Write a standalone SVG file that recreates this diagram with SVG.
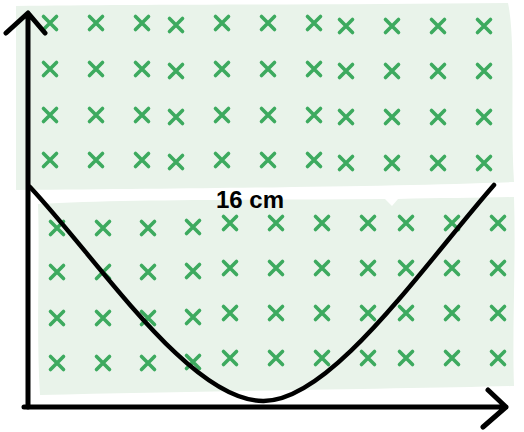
<svg xmlns="http://www.w3.org/2000/svg" xmlns:xlink="http://www.w3.org/1999/xlink" width="524" height="432" viewBox="0 0 524 432">
<style>
.region{fill:#e9f3ea;stroke:none}
.cross{fill:none;stroke:#3daa5f;stroke-width:3.6;stroke-linecap:round}
.ink{fill:none;stroke:#000;stroke-linecap:round;stroke-linejoin:round}
.label{font-family:"Liberation Sans","Open Sans",Arial,sans-serif;font-weight:bold;font-size:24px;fill:#000}
</style>
<defs>
<path id="x" class="cross" d="M-6.5,-6.5 L6.5,6.5 M6.5,-6.5 L-6.5,6.5"/>
</defs>
<rect width="524" height="432" fill="#fff"/>
<g id="top-region">
<path class="region" d="M16,6 C150,4 350,5 508,3 C516,40 510,120 514,182 C400,186 250,188 16,190 Z"/>
<g id="top-crosses">
<use xlink:href="#x" x="50" y="23"/><use xlink:href="#x" x="96" y="23"/><use xlink:href="#x" x="142" y="23"/><use xlink:href="#x" x="176" y="25"/><use xlink:href="#x" x="222" y="23"/><use xlink:href="#x" x="268" y="23"/><use xlink:href="#x" x="314" y="23"/><use xlink:href="#x" x="346" y="26"/><use xlink:href="#x" x="392" y="26"/><use xlink:href="#x" x="438" y="26"/><use xlink:href="#x" x="484" y="26"/>
<use xlink:href="#x" x="50" y="69"/><use xlink:href="#x" x="96" y="69"/><use xlink:href="#x" x="142" y="69"/><use xlink:href="#x" x="176" y="71"/><use xlink:href="#x" x="222" y="69"/><use xlink:href="#x" x="268" y="69"/><use xlink:href="#x" x="314" y="69"/><use xlink:href="#x" x="346" y="71"/><use xlink:href="#x" x="392" y="71"/><use xlink:href="#x" x="438" y="71"/><use xlink:href="#x" x="484" y="71"/>
<use xlink:href="#x" x="50" y="115"/><use xlink:href="#x" x="96" y="115"/><use xlink:href="#x" x="142" y="115"/><use xlink:href="#x" x="176" y="117"/><use xlink:href="#x" x="222" y="115"/><use xlink:href="#x" x="268" y="115"/><use xlink:href="#x" x="314" y="115"/><use xlink:href="#x" x="346" y="117"/><use xlink:href="#x" x="392" y="117"/><use xlink:href="#x" x="438" y="117"/><use xlink:href="#x" x="484" y="117"/>
<use xlink:href="#x" x="50" y="160"/><use xlink:href="#x" x="96" y="160"/><use xlink:href="#x" x="142" y="160"/><use xlink:href="#x" x="176" y="162"/><use xlink:href="#x" x="222" y="160"/><use xlink:href="#x" x="268" y="160"/><use xlink:href="#x" x="314" y="160"/><use xlink:href="#x" x="346" y="163"/><use xlink:href="#x" x="392" y="163"/><use xlink:href="#x" x="438" y="163"/><use xlink:href="#x" x="484" y="163"/>
</g>
</g>
<g id="bottom-region">
<path class="region" d="M38,204 C120,199 260,200 385,199 L392,206 L398,199 C440,198 480,198 514,197 C516,260 512,330 514,386 C400,389 200,391 40,395 C36,330 40,260 38,204 Z"/>
<g id="bottom-crosses">
<use xlink:href="#x" x="57" y="228"/><use xlink:href="#x" x="103" y="228"/><use xlink:href="#x" x="148" y="228"/><use xlink:href="#x" x="193" y="227"/><use xlink:href="#x" x="230" y="223"/><use xlink:href="#x" x="276" y="223"/><use xlink:href="#x" x="322" y="223"/><use xlink:href="#x" x="368" y="223"/><use xlink:href="#x" x="406" y="223"/><use xlink:href="#x" x="452" y="223"/><use xlink:href="#x" x="498" y="223"/>
<use xlink:href="#x" x="57" y="272"/><use xlink:href="#x" x="103" y="272"/><use xlink:href="#x" x="148" y="272"/><use xlink:href="#x" x="193" y="271"/><use xlink:href="#x" x="230" y="268"/><use xlink:href="#x" x="276" y="268"/><use xlink:href="#x" x="322" y="268"/><use xlink:href="#x" x="368" y="268"/><use xlink:href="#x" x="406" y="268"/><use xlink:href="#x" x="452" y="268"/><use xlink:href="#x" x="498" y="268"/>
<use xlink:href="#x" x="57" y="318"/><use xlink:href="#x" x="103" y="318"/><use xlink:href="#x" x="148" y="318"/><use xlink:href="#x" x="193" y="317"/><use xlink:href="#x" x="230" y="313"/><use xlink:href="#x" x="276" y="313"/><use xlink:href="#x" x="322" y="313"/><use xlink:href="#x" x="368" y="313"/><use xlink:href="#x" x="406" y="313"/><use xlink:href="#x" x="452" y="313"/><use xlink:href="#x" x="498" y="313"/>
<use xlink:href="#x" x="57" y="363"/><use xlink:href="#x" x="103" y="363"/><use xlink:href="#x" x="148" y="363"/><use xlink:href="#x" x="193" y="362"/><use xlink:href="#x" x="230" y="358"/><use xlink:href="#x" x="276" y="358"/><use xlink:href="#x" x="322" y="358"/><use xlink:href="#x" x="368" y="358"/><use xlink:href="#x" x="406" y="358"/><use xlink:href="#x" x="452" y="358"/><use xlink:href="#x" x="498" y="358"/>
</g>
</g>
<g id="label">
<text class="label" x="216" y="208">16 cm</text>
</g>
<g id="connectors">
<path id="y-axis" class="ink" stroke-width="5" d="M28,407 L28,14 M6,33 L28,13 L45,33"/>
<path id="x-axis" class="ink" stroke-width="5" d="M24,407 L506,407 M488,390 L506,407 L483,427"/>
<path id="curve" class="ink" stroke-width="4.5" d="M30,187 C100,262 190,401 263,401 C330,402 420,270 494,185"/>
</g>
</svg>
